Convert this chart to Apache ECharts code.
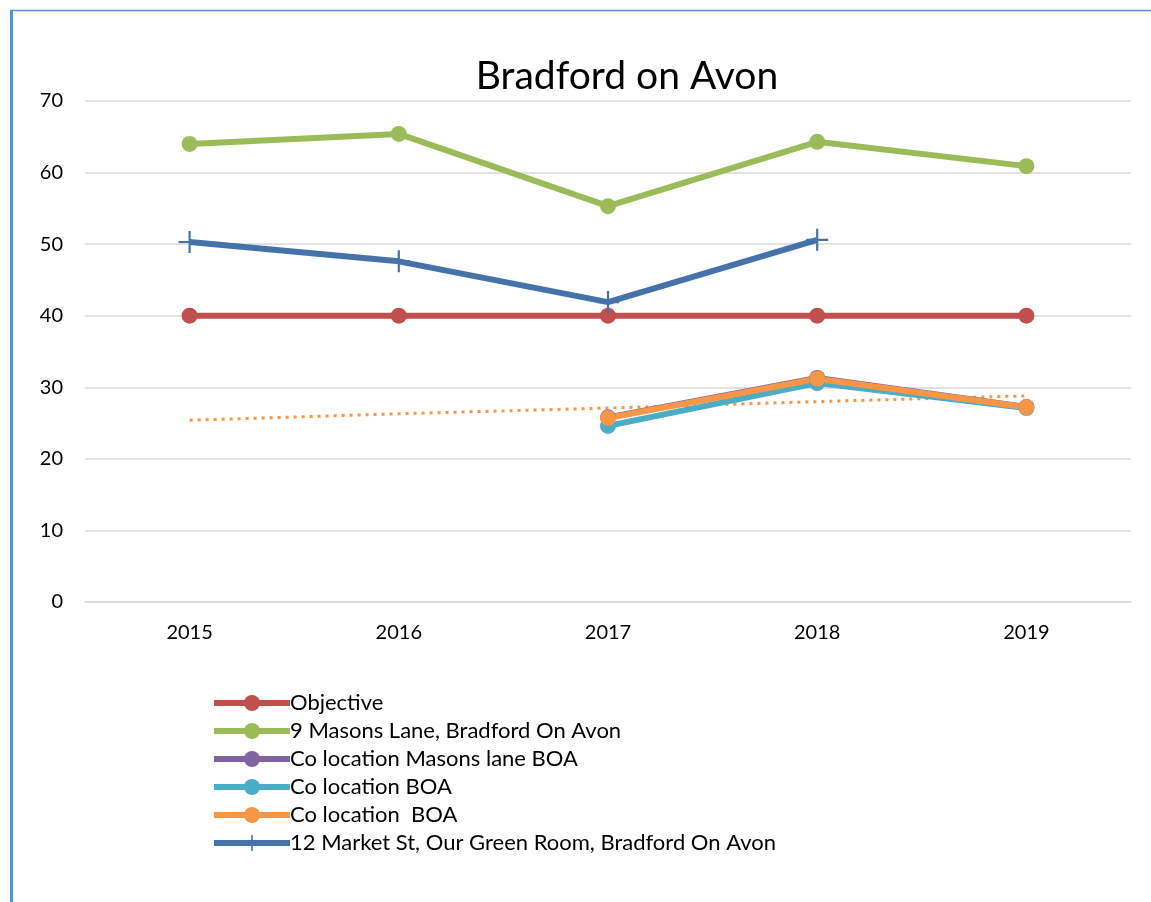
<!DOCTYPE html>
<html>
<head>
<meta charset="utf-8">
<title>Bradford on Avon</title>
<script src="https://cdn.jsdelivr.net/npm/echarts@6/dist/echarts.min.js"></script>
<style>
  html, body { margin: 0; padding: 0; background: #ffffff; }
  #chart { width: 1151px; height: 902px; }
</style>
</head>
<body>
<div id="chart"></div>
<script>
// Years on the category axis
const years = ['2015', '2016', '2017', '2018', '2019'];

// Annual mean NO2 readings per monitoring site
const objective = [40, 40, 40, 40, 40];
const masonsLane = [64.0, 65.4, 55.3, 64.3, 60.9];
const coMasonsLane = [null, null, 25.8, 31.3, 27.25];
const coBoaA = [null, null, 24.6, 30.6, 27.1];
const coBoaB = [null, null, 25.7, 31.2, 27.2];
const marketSt = [50.3, 47.6, 41.9, 50.6, null];

// Linear trend of the "Co location  BOA" site
const coBoaTrend = [25.4, 26.3, 27.1, 28.0, 28.8];

// Value axis ticks
const yTicks = [0, 10, 20, 30, 40, 50, 60, 70];

const FONT = 'Lato, "Open Sans", sans-serif';

const plusPath = 'path://M9,0h2v9h9v2h-9v9h-2v-9h-9v-2h9z';

function lineSeries(name, data, color, symbol, symbolSize) {
  return {
    name: name,
    type: 'line',
    data: data,
    symbol: symbol,
    symbolSize: symbolSize,
    showSymbol: true,
    connectNulls: false,
    lineStyle: { color: color, width: 6 },
    itemStyle: { color: color, borderWidth: 0 },
    emphasis: { disabled: true },
    animation: false
  };
}

const chart = echarts.init(document.getElementById('chart'), null, { renderer: 'canvas' });

chart.setOption({
  backgroundColor: '#ffffff',
  animation: false,
  title: {
    text: 'Bradford on Avon',
    left: 622,
    textAlign: 'center',
    top: 52,
    textStyle: { fontFamily: FONT, fontSize: 39, fontWeight: 'normal', color: '#000000' }
  },
  grid: { left: 85, right: 20, top: 101, bottom: 300, containLabel: false },
  xAxis: {
    type: 'category',
    data: years,
    boundaryGap: true,
    axisLine: { show: true, lineStyle: { color: '#d9d9d9', width: 1.5 } },
    axisTick: { show: false },
    axisLabel: { fontFamily: FONT, fontSize: 20, color: '#000000', margin: 21 },
    splitLine: { show: false }
  },
  yAxis: {
    type: 'value',
    min: yTicks[0],
    max: yTicks[yTicks.length - 1],
    interval: 10,
    axisLine: { show: false },
    axisTick: { show: false },
    axisLabel: { fontFamily: FONT, fontSize: 20, color: '#000000', margin: 22 },
    splitLine: { show: true, lineStyle: { color: '#d9d9d9', width: 1.5 } }
  },
  legend: {
    orient: 'vertical',
    left: 206,
    top: 687,
    itemWidth: 76,
    itemHeight: 20,
    itemGap: 6,
    lineStyle: { width: 6 },
    textStyle: { fontFamily: FONT, fontSize: 22, color: '#000000', padding: [0, 0, 0, -5] },
    data: ['Objective', '9 Masons Lane, Bradford On Avon', 'Co location Masons lane BOA',
           'Co location BOA', 'Co location  BOA', '12 Market St, Our Green Room, Bradford On Avon'],
    selectedMode: false
  },
  series: [
    {
      name: 'trend',
      type: 'line',
      data: coBoaTrend,
      symbol: 'none',
      lineStyle: { color: '#F79646', width: 3, type: [3, 5] },
      emphasis: { disabled: true },
      z: 1,
      animation: false
    },
    lineSeries('Objective', objective, '#C0504D', 'circle', 16),
    lineSeries('9 Masons Lane, Bradford On Avon', masonsLane, '#9BBB59', 'circle', 16),
    lineSeries('Co location Masons lane BOA', coMasonsLane, '#8064A2', 'circle', 16),
    lineSeries('Co location BOA', coBoaA, '#4BACC6', 'circle', 16),
    lineSeries('Co location  BOA', coBoaB, '#F79646', 'circle', 16),
    lineSeries('12 Market St, Our Green Room, Bradford On Avon', marketSt, '#4672AA', plusPath, 22)
  ],
  graphic: [
    { type: 'line', shape: { x1: 11.5, y1: 10, x2: 11.5, y2: 902 }, style: { stroke: '#5B8ED6', lineWidth: 3 }, silent: true },
    { type: 'line', shape: { x1: 10, y1: 10.5, x2: 1151, y2: 10.5 }, style: { stroke: '#5B8ED6', lineWidth: 1.5 }, silent: true }
  ]
});
</script>
</body>
</html>
